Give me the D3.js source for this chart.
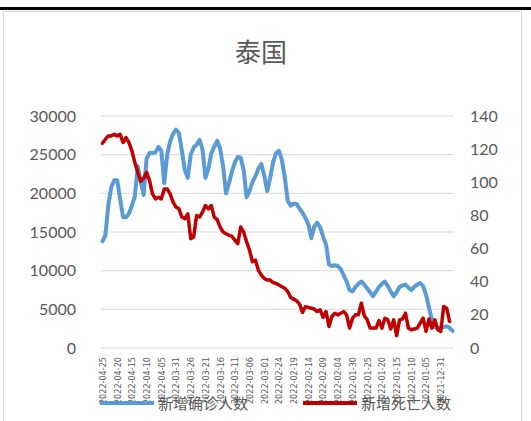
<!DOCTYPE html>
<html>
<head>
<meta charset="utf-8">
<script src="https://cdn.jsdelivr.net/npm/d3@7"></script>
<style>
  body { margin: 0; background: #fff; }
  svg { display: block; font-family: "Lato", "Noto Sans CJK SC", sans-serif; }
</style>
</head>
<body>
<div id="chart"></div>
<script>
// values run from 2022-04-25 back to 2021-12-27 (newest first, as in the source sheet)
const startDate = new Date(2022, 3, 25);
const dayCount = 120;

const confirmed = [
    13800, 14600, 18500, 20800, 21700, 21700, 19300, 16900, 16900, 17400,
    18400, 19600, 23500, 21500, 19800, 24500, 25200, 25200, 25300, 26000,
    25500, 21300, 25000, 26700, 27700, 28250, 27800, 25500, 23000, 22000,
    25000, 25900, 26300, 26900, 25700, 22000, 23200, 25200, 26000, 26800,
    25800, 23500, 20000, 21300, 22800, 24000, 24700, 24600, 23000, 19500,
    20300, 21500, 22200, 23200, 23800, 22300, 20300, 22000, 24000, 25200,
    25500, 24300, 22000, 19000, 18400, 18700, 18600, 18000, 17500, 16800,
    16000, 14200, 15700, 16200, 15600, 14400, 13400, 10800, 10600, 10700,
    10600, 10200, 9400, 8600, 7500, 7300, 7900, 8300, 8600, 8200,
    7700, 7200, 6700, 7300, 7900, 8300, 8600, 8000, 7300, 6700,
    7200, 7900, 8100, 8200, 7800, 7500, 7900, 8200, 8400, 8000,
    6900, 5200, 3600, 2700, 2600, 2600, 2700, 2800, 2600, 2200
];

const deaths = [
    123.5, 126, 128, 128, 129, 128, 129, 124, 127, 124,
    119, 112, 106, 100.5, 102.5, 106, 101, 93, 90, 91,
    90, 96, 96, 93, 88, 85, 84, 79, 78, 81,
    66, 67, 80, 79, 82, 86, 84, 86, 79, 77.5,
    73, 70, 69, 68, 67.5, 65, 63, 73, 70, 64,
    59, 52, 53, 47, 44, 42, 41, 41, 39.5, 39,
    38, 37, 36, 34, 30.5, 29.5, 28.5, 26.5, 21.5, 25,
    24.5, 24, 23.5, 22, 23, 18.5, 22, 13, 19, 21,
    20, 21, 22, 20, 12, 18, 20, 20, 27, 19.5,
    17, 12, 12, 12, 16.5, 12, 18, 17, 11.5, 17,
    7.5, 17, 17.5, 21, 12, 11, 11.5, 12, 15, 18,
    10, 17.5, 12, 17, 11, 10, 25, 24, 16
];

const leftTicks = [0, 5000, 10000, 15000, 20000, 25000, 30000];
const rightTicks = [0, 20, 40, 60, 80, 100, 120, 140];
const seriesNames = ['新增确诊人数', '新增死亡人数'];
const title = '泰国';

const fmt = d3.timeFormat('%Y-%m-%d');
const dates = d3.range(dayCount).map(i => d3.timeDay.offset(startDate, -i));

const W = 531, H = 421;
const margin = {top: 116, right: 77, bottom: 73, left: 101};
const width = W - margin.left - margin.right;
const height = H - margin.top - margin.bottom;

const root = d3.select('#chart')
    .append('svg')
    .attr('width', W)
    .attr('height', H);

// black rule on top and the chart frame
root.append('rect')
    .attr('x', 0).attr('y', 7)
    .attr('width', W).attr('height', 3)
    .attr('fill', '#000');

root.append('rect')
    .attr('x', 3.5).attr('y', 11.5)
    .attr('width', 518).attr('height', 420)
    .attr('fill', 'none')
    .attr('stroke', '#d9d9d9');

root.append('text')
    .attr('x', 261)
    .attr('y', 62)
    .attr('text-anchor', 'middle')
    .style('font-size', '26px')
    .style('fill', '#595959')
    .text(title);

const svg = root.append('g')
    .attr('transform', `translate(${margin.left},${margin.top})`);

const x = d3.scalePoint()
    .domain(dates.map(fmt))
    .range([0, width])
    .padding(0.5);

const yLeft = d3.scaleLinear()
    .domain([0, 30000])
    .range([height, 0]);

const yRight = d3.scaleLinear()
    .domain([0, 140])
    .range([height, 0]);

// gridlines
svg.append('g')
    .selectAll('line')
    .data(leftTicks)
    .enter()
    .append('line')
    .attr('x1', 0)
    .attr('x2', width)
    .attr('y1', d => yLeft(d))
    .attr('y2', d => yLeft(d))
    .attr('stroke', '#d9d9d9')
    .attr('stroke-width', 1);

// axes
const leftAxis = svg.append('g')
    .call(d3.axisLeft(yLeft).tickValues(leftTicks).tickFormat(d3.format('d')).tickSize(0).tickPadding(25));
leftAxis.select('.domain').remove();
leftAxis.selectAll('text')
    .style('font-size', '16px')
    .style('fill', '#595959')
    .style('font-family', 'Lato, sans-serif');

const rightAxis = svg.append('g')
    .attr('transform', `translate(${width},0)`)
    .call(d3.axisRight(yRight).tickValues(rightTicks).tickSize(0).tickPadding(16));
rightAxis.select('.domain').remove();
rightAxis.selectAll('text')
    .style('font-size', '16px')
    .style('fill', '#595959')
    .style('font-family', 'Lato, sans-serif');

const labelDates = dates.filter((d, i) => i % 5 === 0).map(fmt);
const bottomAxis = svg.append('g')
    .attr('transform', `translate(0,${height})`)
    .call(d3.axisBottom(x).tickValues(labelDates).tickSize(0).tickPadding(0));
bottomAxis.select('.domain').remove();
bottomAxis.selectAll('text')
    .attr('transform', 'rotate(-90)')
    .attr('text-anchor', 'end')
    .attr('x', -9)
    .attr('y', 0)
    .attr('dy', '0.32em')
    .style('font-size', '9px')
    .style('fill', '#595959')
    .style('font-family', '"DejaVu Sans Condensed", "Liberation Sans Narrow", sans-serif');

// lines
const lineLeft = d3.line()
    .x((d, i) => x(fmt(dates[i])))
    .y(d => yLeft(d))
    .curve(d3.curveLinear);

const lineRight = d3.line()
    .x((d, i) => x(fmt(dates[i])))
    .y(d => yRight(d))
    .curve(d3.curveLinear);

svg.append('path')
    .datum(confirmed)
    .attr('fill', 'none')
    .attr('stroke', '#5b9bd5')
    .attr('stroke-width', 4)
    .attr('stroke-linejoin', 'round')
    .attr('stroke-linecap', 'round')
    .attr('d', lineLeft);

svg.append('path')
    .datum(deaths)
    .attr('fill', 'none')
    .attr('stroke', '#c00000')
    .attr('stroke-width', 3.5)
    .attr('stroke-linejoin', 'round')
    .attr('stroke-linecap', 'round')
    .attr('d', lineRight);

// legend, sitting on top of the date labels like in the original
const legend = root.append('g');
const legendItems = [
    {name: seriesNames[0], color: '#5b9bd5', x: 100},
    {name: seriesNames[1], color: '#c00000', x: 303}
];
legendItems.forEach(item => {
    legend.append('line')
        .attr('x1', item.x).attr('x2', item.x + 54)
        .attr('y1', 403).attr('y2', 403)
        .attr('stroke', item.color)
        .attr('stroke-width', 4);
    legend.append('text')
        .attr('x', item.x + 58)
        .attr('y', 409)
        .style('font-size', '15px')
        .style('fill', '#595959')
        .style('font-family', '"Noto Sans CJK SC", sans-serif')
        .text(item.name);
});
</script>
</body>
</html>
